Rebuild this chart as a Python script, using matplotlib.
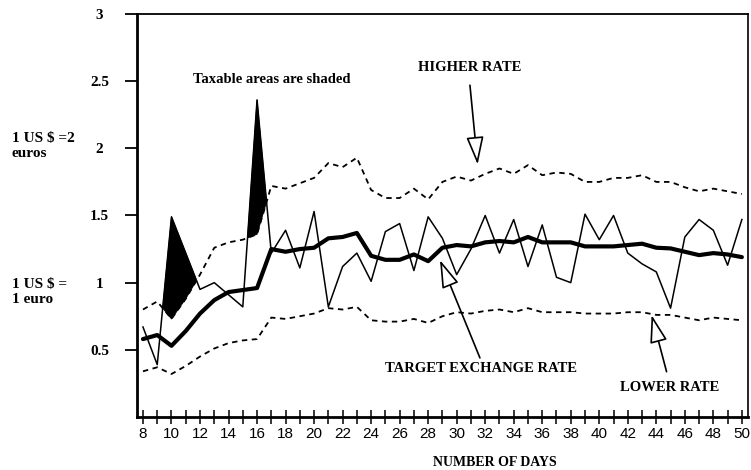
import numpy as np
import matplotlib
matplotlib.use("Agg")
import matplotlib.pyplot as plt

# daily values
days = list(range(8, 51))

actual_rate = [0.67, 0.39, 1.49, 1.22, 0.95, 1.00, 0.91, 0.82, 2.36, 1.22,
               1.39, 1.11, 1.53, 0.82, 1.12, 1.22, 1.01, 1.38, 1.44, 1.09,
               1.49, 1.33, 1.06, 1.25, 1.50, 1.22, 1.47, 1.12, 1.43, 1.04,
               1.00, 1.51, 1.32, 1.50, 1.22, 1.14, 1.08, 0.81, 1.34, 1.47,
               1.39, 1.13, 1.47]

target_rate = [0.58, 0.61, 0.53, 0.64, 0.77, 0.87, 0.93, 0.945, 0.96, 1.25,
               1.23, 1.25, 1.26, 1.33, 1.34, 1.37, 1.20, 1.17, 1.17, 1.21,
               1.16, 1.26, 1.28, 1.27, 1.30, 1.31, 1.30, 1.34, 1.30, 1.30,
               1.30, 1.27, 1.27, 1.27, 1.28, 1.29, 1.26, 1.255, 1.23, 1.205,
               1.22, 1.21, 1.19]

higher_rate = [0.80, 0.86, 0.73, 0.88, 1.06, 1.26, 1.30, 1.32, 1.36, 1.72,
               1.70, 1.74, 1.78, 1.89, 1.86, 1.93, 1.69, 1.63, 1.63, 1.70,
               1.62, 1.75, 1.79, 1.76, 1.81, 1.85, 1.81, 1.875, 1.80, 1.82,
               1.81, 1.75, 1.75, 1.78, 1.78, 1.80, 1.75, 1.75, 1.71, 1.68,
               1.70, 1.68, 1.66]

lower_rate = [0.34, 0.37, 0.32, 0.38, 0.45, 0.51, 0.55, 0.57, 0.58, 0.74,
              0.73, 0.75, 0.77, 0.81, 0.80, 0.82, 0.72, 0.71, 0.71, 0.73,
              0.70, 0.75, 0.78, 0.77, 0.79, 0.80, 0.78, 0.81, 0.78, 0.78,
              0.78, 0.77, 0.77, 0.77, 0.78, 0.78, 0.76, 0.76, 0.74, 0.72,
              0.74, 0.73, 0.72]

y_ticks = [0.5, 1, 1.5, 2, 2.5, 3]
y_labels = ['0.5', '1', '1.5', '2', '2.5', '3']

serif = 'Liberation Serif'

fig = plt.figure(figsize=(7.51, 4.70), dpi=100)
ax = fig.add_axes([0.1824, 0.1128, 0.8136, 0.8574])

d = np.array(days)
act = np.array(actual_rate)
hi = np.array(higher_rate)

# taxable areas: actual rate above the higher band
ax.fill_between(d, act, hi, where=act > hi, interpolate=True,
                facecolor='black', edgecolor='black', linewidth=0.6)

ax.plot(days, higher_rate, color='black', lw=1.3, dashes=(3, 2.5))
ax.plot(days, lower_rate, color='black', lw=1.3, dashes=(3, 2.5))
ax.plot(days, actual_rate, color='black', lw=1.1)
ax.plot(days, target_rate, color='black', lw=3.0, solid_capstyle='round')

ax.set_xlim(7.58, 50.43)
ax.set_ylim(0, 3)

ax.set_xticks(range(8, 51, 2))
ax.set_xticks(range(8, 51), minor=True)
ax.tick_params(axis='x', which='both', direction='inout', length=10,
               width=1.1, labelsize=11, pad=2)
for lab in ax.get_xticklabels():
    lab.set_family('Liberation Sans')

ax.set_yticks(y_ticks)
ax.set_yticklabels(y_labels, fontfamily=serif, fontweight='bold', fontsize=11,
                   ha='center')
ax.tick_params(axis='y', direction='out', length=9, width=1.3, pad=18)

for side in ['left', 'bottom']:
    ax.spines[side].set_linewidth(2)
ax.spines['top'].set_linewidth(1.3)
ax.spines['right'].set_linewidth(1.2)

txt = dict(fontfamily=serif, fontweight='bold', fontsize=10.5,
           ha='center', va='center')
hollow = dict(arrowstyle='-|>,head_length=1.15,head_width=0.36',
              fc='white', ec='black', lw=1.2, mutation_scale=15,
              shrinkA=0, shrinkB=0)

ax.text(17.01, 2.515, 'Taxable areas are shaded', **txt)
ax.text(30.93, 2.604, 'HIGHER RATE', **txt)
ax.text(31.74, 0.362, 'TARGET EXCHANGE RATE', **txt)
ax.text(44.96, 0.223, 'LOWER RATE', **txt)

ax.annotate('', xy=(31.47, 1.88), xytext=(30.93, 2.47), arrowprops=hollow)
ax.annotate('', xy=(28.83, 1.168), xytext=(31.63, 0.44), arrowprops=hollow)
ax.annotate('', xy=(43.67, 0.759), xytext=(44.72, 0.337), arrowprops=hollow)

fig.text(495 / 751, 1 - 462 / 470, 'NUMBER OF DAYS', fontfamily=serif,
         fontweight='bold', fontsize=10, ha='center', va='center')
fig.text(12 / 751, 1 - 146 / 470, '1 US $ =2\neuros', fontfamily=serif,
         fontweight='bold', fontsize=11, ha='left', va='center',
         linespacing=1.2)
fig.text(12 / 751, 1 - 292 / 470, '1 US $ =\n1 euro', fontfamily=serif,
         fontweight='bold', fontsize=11, ha='left', va='center',
         linespacing=1.2)

fig.savefig('out.png', dpi=100)
